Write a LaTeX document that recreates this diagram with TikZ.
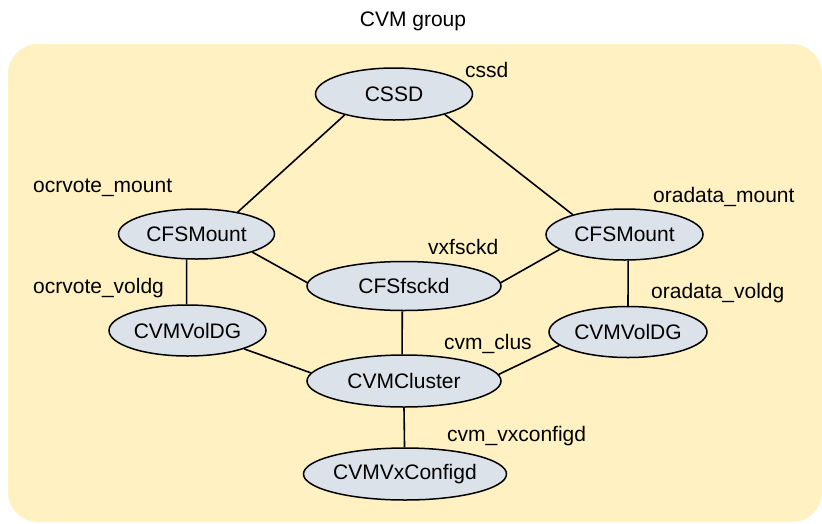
\documentclass[tikz,border=0pt]{standalone}
\usepackage{fontspec}
\setmainfont{Liberation Sans}
\usetikzlibrary{shapes.geometric}
\definecolor{bgyellow}{HTML}{FFF1C1}
\definecolor{nodefill}{HTML}{DCE2EA}
\tikzset{
  res/.style={ellipse, draw=black, line width=1.5pt, fill=nodefill, inner sep=0pt,
    font=\fontsize{21}{25}\selectfont},
  lbl/.style={anchor=base west, inner sep=0pt, font=\fontsize{21}{25}\selectfont},
  link/.style={line width=1.6pt, draw=black}
}
\begin{document}
\begin{tikzpicture}[x=1pt,y=-1pt]
\useasboundingbox (0,0) rectangle (822,523);
\fill[bgyellow, rounded corners=30pt] (8,44) rectangle (822,522);
\node[anchor=base, inner sep=0pt, font=\fontsize{21}{25}\selectfont] (title) at (413,26) {CVM group};

\node[res, minimum width=157pt, minimum height=52pt] (cssd) at (394,94) {CSSD};
\node[res, minimum width=156pt, minimum height=50pt] (cfsl) at (196.5,234) {CFSMount};
\node[res, minimum width=157pt, minimum height=51pt] (cfsr) at (624.5,234.5) {CFSMount};
\node[res, minimum width=194pt, minimum height=49pt] (fsck) at (404,286) {CFSfsckd};
\node[res, minimum width=157pt, minimum height=51pt] (cvl) at (187.5,330.5) {CVMVolDG};
\node[res, minimum width=158pt, minimum height=51pt] (cvr) at (628,332) {CVMVolDG};
\node[res, minimum width=194pt, minimum height=52pt] (clus) at (404,381) {CVMCluster};
\node[res, minimum width=196pt, minimum height=52pt] (vxc) at (405,474) {CVMVxConfigd};

\draw[link] (cssd.203) -- (cfsl.28);
\draw[link] (cssd.338) -- (cfsr.159);
\draw[link] (cfsl.342) -- (fsck.178);
\draw[link] (cfsr.193) -- (fsck.2);
\draw[link] (cfsl.249) -- (cvl.92);
\draw[link] (cfsr.278) -- (cvr.90);
\draw[link] (fsck.266) -- (clus.94);
\draw[link] (cvl.342) -- (clus.175);
\draw[link] (cvr.191) -- (clus.4);
\draw[link] (clus.270) -- (vxc.91);

\node[lbl] (l1) at (465,77) {cssd};
\node[lbl] (l2) at (33,192) {ocrvote\_mount};
\node[lbl] (l3) at (653,202) {oradata\_mount};
\node[lbl] (l4) at (428,254) {vxfsckd};
\node[lbl] (l5) at (33,293) {ocrvote\_voldg};
\node[lbl] (l6) at (651,298) {oradata\_voldg};
\node[lbl] (l7) at (444,349) {cvm\_clus};
\node[lbl] (l8) at (447,441) {cvm\_vxconfigd};
\end{tikzpicture}
\end{document}
